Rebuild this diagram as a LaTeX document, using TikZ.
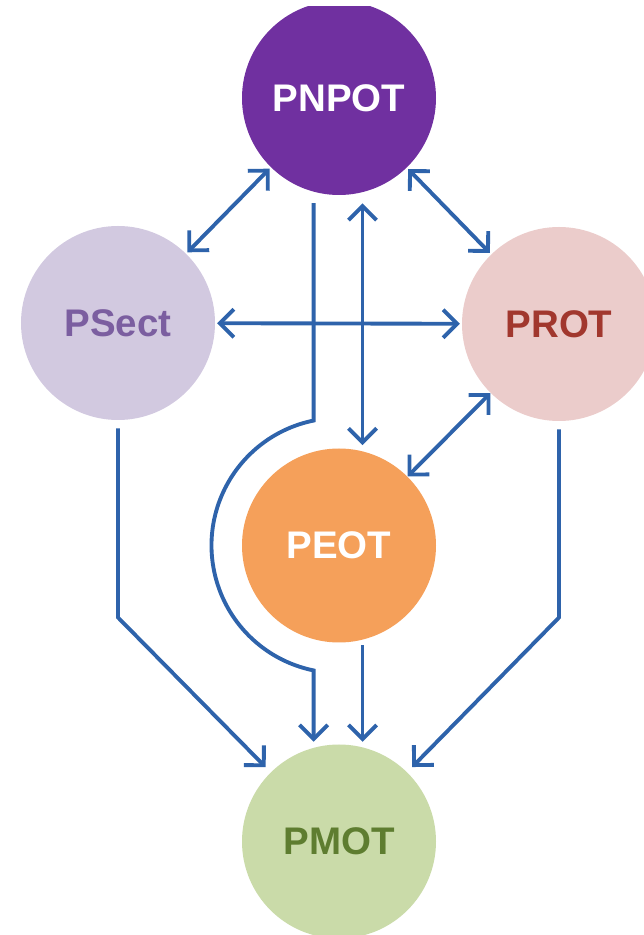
\documentclass[tikz,border=0pt]{standalone}
\usepackage{fontspec}
\setmainfont{Liberation Sans}
\usetikzlibrary{positioning}
\usetikzlibrary{arrows.meta}
\usetikzlibrary{calc}
\definecolor{linkblue}{HTML}{2E63AB}
\definecolor{nationalfill}{HTML}{7030A0}
\definecolor{sectfill}{HTML}{D2C9E0}
\definecolor{secttext}{HTML}{7B5EA0}
\definecolor{regfill}{HTML}{EBCCCB}
\definecolor{regtext}{HTML}{A1372E}
\definecolor{interfill}{HTML}{F5A05A}
\definecolor{munfill}{HTML}{CADBA9}
\definecolor{muntext}{HTML}{5E7D30}
\tikzset{node distance=4.5cm and 4.42cm, on grid,
	plan/.style={circle,minimum size=3.88cm,inner sep=0pt,font=\fontsize{21.9}{24}\selectfont\bfseries},
	link/.style={draw=linkblue,line width=2.2pt,shorten <=1pt,shorten >=1pt},
	>={Straight Barb[length=8pt,width=16pt]}}

\begin{document}
\begin{tikzpicture}
				\useasboundingbox (0,0) rectangle (12.88,18.7);
				\clip (0,0) rectangle (12.88,18.56);

				\node[plan,fill=nationalfill,text=white] (PNPOT) at (6.78,16.74) {PNPOT};
				\node[plan,fill=sectfill,text=secttext] (PSect) [below left=of PNPOT] {PSect};
				\node[plan,fill=regfill,text=regtext] (PROT) [below right=4.52cm and 4.4cm of PNPOT] {PROT};
				\node[plan,fill=interfill,text=white] (PEOT) [below=8.95cm of PNPOT] {PEOT};
				\node[plan,fill=munfill,text=muntext] (PMOT) [below=5.92cm of PEOT] {PMOT};
				\coordinate (arcTop) at ($(PEOT.center)+(101.5:2.55)$);

				\draw[link,<->] (PNPOT) -- (PSect);
				\draw[link,<->] (PNPOT) -- (PROT);
				\draw[link,<->] (PSect) -- (PROT);
				\draw[link,<->,shorten <=6.2pt,shorten >=3.4pt] (PNPOT.-76) -- (PEOT.76);
				\draw[link,<->,shorten <=0pt,shorten >=0pt] (PROT) -- (PEOT);

				% national plan goes round PEOT down to PMOT
				\draw[link,->,shorten <=4.4pt,shorten >=1.4pt] (PNPOT.south -| arcTop)
					-- (arcTop) arc[start angle=101.5,end angle=258.5,radius=2.55]
					-- (PMOT.north -| arcTop);
				\draw[link,->,shorten <=3pt,shorten >=3pt] (PEOT.-76) -- (PMOT.76);
				\draw[link,->,shorten <=4.5pt,shorten >=4pt] (PSect) -- ++(0,-5.89) -- (PMOT);
				\draw[link,->,shorten <=4.5pt,shorten >=4pt] (PROT) -- ++(0,-5.87) -- (PMOT);
			\end{tikzpicture}
\end{document}
